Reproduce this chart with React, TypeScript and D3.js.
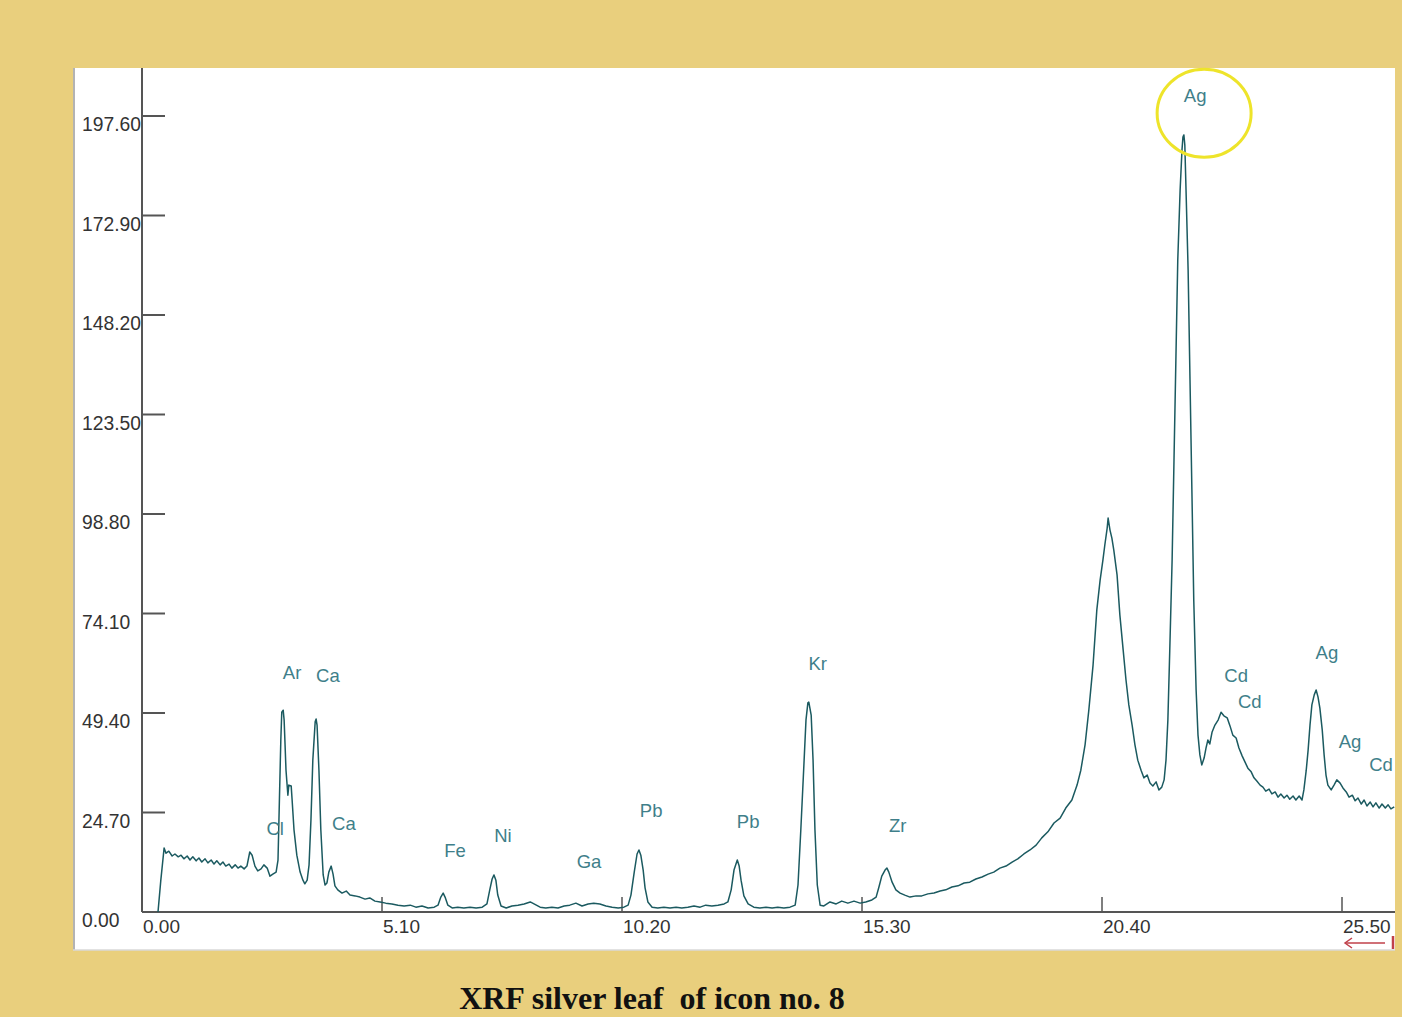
import React from "react";
import * as d3 from "d3";

// Spectrum (energy keV, counts)
const energy: number[] = [
  0.34,0.40,0.47,0.51,0.57,0.64,0.70,0.77,0.83,0.89,0.96,1.02,1.08,1.15,1.21,1.27,1.34,1.40,1.47,1.53,1.59,1.66,1.72,1.78,1.85,1.91,1.98,2.04,2.10,2.17,2.23,2.29,2.34,2.40,2.46,2.53,2.59,2.66,2.72,2.78,2.85,2.89,2.91,2.93,2.95,2.97,3.00,3.02,3.04,3.06,3.10,3.12,3.17,3.19,3.23,3.29,3.36,3.42,3.46,3.51,3.55,3.59,3.63,3.68,3.70,3.72,3.76,3.80,3.85,3.89,3.93,3.97,4.02,4.06,4.10,4.16,4.25,4.34,4.42,4.53,4.63,4.74,4.84,4.95,5.06,5.18,5.31,5.44,5.57,5.70,5.82,5.95,6.08,6.21,6.29,6.35,6.40,6.44,6.50,6.59,6.71,6.84,6.97,7.10,7.23,7.33,7.39,7.44,7.48,7.52,7.56,7.63,7.74,7.86,7.99,8.12,8.25,8.33,8.46,8.58,8.71,8.84,8.97,9.09,9.22,9.35,9.48,9.60,9.73,9.86,9.99,10.12,10.24,10.33,10.39,10.46,10.52,10.56,10.60,10.65,10.69,10.75,10.84,10.96,11.09,11.22,11.35,11.47,11.60,11.73,11.86,11.98,12.11,12.24,12.37,12.45,12.52,12.58,12.65,12.69,12.73,12.79,12.88,13.00,13.13,13.26,13.39,13.51,13.64,13.77,13.88,13.94,14.00,14.07,14.11,14.15,14.17,14.22,14.26,14.30,14.35,14.41,14.49,14.62,14.75,14.87,15.00,15.13,15.26,15.38,15.51,15.60,15.66,15.72,15.79,15.83,15.87,15.94,16.02,16.11,16.21,16.32,16.45,16.57,16.70,16.83,16.96,17.08,17.21,17.34,17.47,17.59,17.72,17.85,17.98,18.10,18.23,18.36,18.49,18.61,18.74,18.87,19.00,19.12,19.25,19.38,19.51,19.63,19.76,19.87,19.95,20.04,20.12,20.21,20.29,20.36,20.42,20.46,20.51,20.53,20.57,20.61,20.65,20.72,20.78,20.85,20.91,20.97,21.04,21.10,21.16,21.23,21.29,21.36,21.42,21.48,21.55,21.61,21.67,21.72,21.76,21.80,21.84,21.89,21.93,21.97,22.01,22.06,22.10,22.12,22.14,22.16,22.18,22.23,22.27,22.31,22.35,22.40,22.44,22.48,22.52,22.57,22.61,22.65,22.69,22.74,22.80,22.87,22.93,22.99,23.06,23.12,23.18,23.25,23.31,23.38,23.44,23.50,23.57,23.63,23.69,23.76,23.82,23.88,23.95,24.01,24.08,24.14,24.20,24.27,24.33,24.39,24.46,24.52,24.59,24.65,24.69,24.74,24.78,24.82,24.86,24.91,24.95,24.99,25.03,25.08,25.12,25.16,25.20,25.27,25.33,25.39,25.46,25.52,25.59,25.65,25.72,25.78,25.84,25.91,25.97,26.03,26.10,26.16,26.22,26.29,26.35,26.42,26.48,26.54,26.61
];
const counts: number[] = [
  0,7.9,15.9,14.6,15.1,13.9,14.4,13.7,14.1,13.2,13.9,12.9,13.7,12.7,13.4,12.4,13.2,12.2,12.9,11.9,12.7,11.7,12.4,11.4,11.9,10.9,11.7,10.9,11.4,10.7,11.4,14.9,14.1,11.4,10.2,10.7,11.7,10.9,8.9,9.4,9.9,12.9,22.8,32.8,42.7,49.6,50.1,47.7,41.5,35.2,29.0,31.5,31.3,27.8,20.4,14.1,9.9,7.9,7.0,7.9,11.7,22.8,37.7,47.2,47.9,46.4,35.2,20.4,9.2,6.7,7.2,9.9,11.4,9.4,6.5,5.5,4.7,5.2,4.2,4.0,3.7,3.2,3.5,2.7,2.5,2.2,2.0,1.7,1.5,1.7,1.2,1.5,1.0,1.2,1.7,3.7,4.7,3.7,1.7,1.0,1.2,1.0,1.2,1.0,1.2,2.0,5.5,8.2,9.2,7.9,4.2,1.5,1.0,1.5,1.7,2.0,2.5,2.0,1.2,1.0,1.2,1.0,1.5,1.7,2.2,1.5,2.0,2.2,2.0,1.5,1.2,1.0,1.2,1.7,4.2,9.9,14.4,15.4,14.1,10.4,6.0,2.5,1.2,1.0,1.2,1.0,1.2,1.0,1.2,1.5,1.2,1.7,1.5,1.7,2.0,2.5,5.5,10.4,12.9,11.4,7.9,4.0,2.0,1.2,1.0,1.2,1.0,1.2,1.0,1.2,1.7,6.7,20.4,37.7,47.7,51.9,52.1,48.9,37.7,20.4,6.7,1.7,1.5,2.5,2.0,2.7,2.2,2.7,2.2,2.5,3.0,3.7,6.2,8.9,10.4,10.9,9.9,7.4,5.5,4.7,4.2,3.7,4.0,4.0,4.5,4.7,5.2,5.5,6.2,6.5,7.2,7.4,8.2,8.7,9.4,9.9,10.9,11.4,12.4,13.2,14.4,15.4,16.6,18.4,19.9,22.1,23.3,25.8,27.8,31.5,35.2,41.5,50.1,61.3,75.0,82.4,87.4,91.1,95.3,97.8,94.8,92.8,89.9,83.7,73.7,65.0,57.6,51.4,46.4,41.5,37.7,35.2,33.3,34.0,32.0,31.3,32.3,30.3,31.0,32.8,37.7,47.7,65.0,87.4,112.2,137.0,161.8,179.2,189.2,192.4,192.9,190.4,181.7,159.4,132.1,104.8,77.4,55.1,43.9,39.0,36.5,38.2,40.7,42.7,41.7,44.7,46.4,47.7,49.6,48.7,48.2,46.2,43.9,43.2,40.7,38.7,37.2,35.7,34.8,33.3,32.5,31.5,31.0,30.0,30.5,29.3,29.8,28.5,29.3,28.3,29.0,28.0,28.8,27.8,28.8,27.8,30.3,35.2,40.2,46.4,51.4,53.9,55.1,53.4,50.6,45.2,39.0,34.0,31.5,30.3,31.5,32.8,32.0,30.8,29.8,28.5,29.0,27.6,28.3,26.8,27.8,26.3,27.3,26.1,27.1,25.8,26.8,25.8,26.6,25.6,26.1
];

const yTicks: number[] = [0, 24.7, 49.4, 74.1, 98.8, 123.5, 148.2, 172.9, 197.6];
const xTicks: number[] = [0, 5.1, 10.2, 15.3, 20.4, 25.5];

const peakLabels: string[] = ["Ag","Ar","Ca","Cl","Ca","Fe","Ni","Ga","Pb","Pb","Kr","Zr","Cd","Cd","Ag","Ag","Cd"];
const peakLabelKeV: number[] = [22.38,3.19,3.95,2.83,4.29,6.65,7.67,9.50,10.82,12.88,14.36,16.06,23.25,23.54,25.18,25.67,26.33];
const peakLabelCounts: number[] = [202.3,59.1,58.3,20.4,21.6,14.9,18.6,12.2,24.8,22.1,61.3,21.1,58.3,51.9,64.0,42.0,36.2];

const highlightKeV = 22.57;
const highlightCounts = 198.3;

const title = "XRF silver leaf  of icon no. 8";

export default function App() {
  const W = 1402, H = 1017;
  const x = d3.scaleLinear().domain([0, 25.5]).range([142, 1342]);
  const y = d3.scaleLinear().domain([0, 197.6]).range([912, 116]);
  const pts: [number, number][] = energy.map((e, i) => [e, counts[i]]);
  const line = d3.line<[number, number]>().x(d => x(d[0])).y(d => y(d[1]));
  const axisColor = "#555";
  const font = "Arial, 'Liberation Sans', sans-serif";
  return (
    <div style={{ position: "absolute", left: 0, top: 0 }}>
      <svg width={W} height={H} style={{ display: "block" }}>
        <rect x={0} y={0} width={W} height={H} fill="#E9CF7D" />
        <rect x={73} y={68} width={1322} height={882} fill="#ffffff" />
        <line x1={74} x2={74} y1={68} y2={950} stroke="#9a9a9a" strokeWidth={1.5} />
        <line x1={73} x2={1395} y1={950} y2={950} stroke="#d8d8d8" strokeWidth={1.5} />
        {/* axes */}
        <line x1={142} x2={142} y1={68} y2={y(0)} stroke={axisColor} strokeWidth={2} />
        <line x1={142} x2={1395} y1={y(0)} y2={y(0)} stroke={axisColor} strokeWidth={2} />
        {yTicks.map((t, i) => (
          <g key={"yt" + i}>
            {t > 0 && <line x1={142} x2={165} y1={y(t)} y2={y(t)} stroke={axisColor} strokeWidth={2} />}
            <text x={82} y={y(t) + 10} textAnchor="start" dominantBaseline="middle" fontFamily={font} fontSize={19.3} fill="#333">
              {t.toFixed(2)}
            </text>
          </g>
        ))}
        {xTicks.map((t, i) => (
          <g key={"xt" + i}>
            {t > 0 && <line x1={x(t)} x2={x(t)} y1={y(0)} y2={y(0) - 15} stroke={axisColor} strokeWidth={1.5} />}
            <text x={x(t) + 1} y={y(0) + 16} textAnchor="start" dominantBaseline="middle" fontFamily={font} fontSize={19} fill="#333">
              {t.toFixed(2)}
            </text>
          </g>
        ))}
        {/* spectrum */}
        <path d={line(pts) || ""} fill="none" stroke="#1b5a60" strokeWidth={1.5} strokeLinejoin="round" />
        {/* element labels */}
        {peakLabels.map((s, i) => (
          <text key={"pl" + i} x={x(peakLabelKeV[i])} y={y(peakLabelCounts[i])} textAnchor="middle" dominantBaseline="middle"
            fontFamily={font} fontSize={18.5} fill="#3f7f8a">{s}</text>
        ))}
        {/* highlight circle */}
        <ellipse cx={x(highlightKeV)} cy={y(highlightCounts)} rx={47} ry={44} fill="none" stroke="#EEE42A" strokeWidth={3} />
        {/* red scroll arrow */}
        <g stroke="#c0404a" strokeWidth={1.5} fill="none">
          <line x1={1346} x2={1385} y1={943} y2={943} />
          <polyline points="1352,938 1345,943 1352,948" />
          <line x1={1393} x2={1393} y1={936} y2={949} strokeWidth={2.5} />
        </g>
        {/* title */}
        <text x={652} y={1009} textAnchor="middle" fontFamily="'Liberation Serif', 'Times New Roman', serif" fontWeight="bold" fontSize={32} fill="#111" style={{ whiteSpace: "pre" }}>
          {title}
        </text>
      </svg>
    </div>
  );
}
